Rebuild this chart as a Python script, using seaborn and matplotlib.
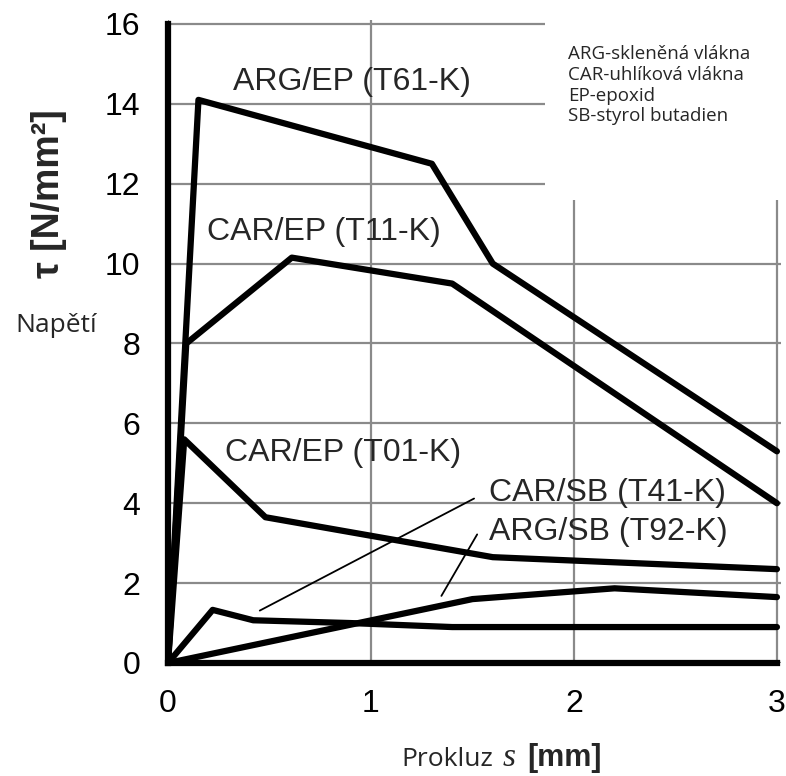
import matplotlib
matplotlib.use("Agg")
import matplotlib.pyplot as plt
import seaborn as sns
import pandas as pd
from matplotlib.patches import Rectangle

# ---- data ----
arg_ep_s = [0.0, 0.15, 1.30, 1.60, 3.00]
arg_ep_t = [0.0, 14.1, 12.5, 10.0, 5.3]

car_ep11_s = [0.0, 0.09, 0.61, 1.40, 3.00]
car_ep11_t = [0.0, 8.0, 10.15, 9.5, 4.0]

car_ep01_s = [0.0, 0.08, 0.48, 1.60, 3.00]
car_ep01_t = [0.0, 5.6, 3.65, 2.65, 2.35]

car_sb_s = [0.0, 0.22, 0.42, 0.90, 1.40, 3.00]
car_sb_t = [0.0, 1.33, 1.07, 1.0, 0.9, 0.9]

arg_sb_s = [0.0, 1.50, 2.20, 3.00]
arg_sb_t = [0.0, 1.6, 1.87, 1.65]

series_names = ["ARG/EP (T61-K)", "CAR/EP (T11-K)", "CAR/EP (T01-K)",
                "CAR/SB (T41-K)", "ARG/SB (T92-K)"]
series_s = [arg_ep_s, car_ep11_s, car_ep01_s, car_sb_s, arg_sb_s]
series_t = [arg_ep_t, car_ep11_t, car_ep01_t, car_sb_t, arg_sb_t]

# label anchor points (left edge, vertical centre) in data units
label_x = [0.32, 0.19, 0.28, 1.58, 1.58]
label_y = [14.55, 10.8, 5.25, 4.25, 3.28]

# leader lines for the two SB labels: (from point on curve) -> (to label)
leader_from = [(0.44, 1.28), (1.34, 1.62)]
leader_to = [(1.52, 4.15), (1.53, 3.28)]

note_lines = ["ARG-skleněná vlákna", "CAR-uhlíková vlákna",
              "EP-epoxid", "SB-styrol butadien"]

x_ticks = [0, 1, 2, 3]
y_ticks = [0, 2, 4, 6, 8, 10, 12, 14, 16]

rows = []
for name, ss, tt in zip(series_names, series_s, series_t):
    for i, (s, t) in enumerate(zip(ss, tt)):
        rows.append({"series": name, "order": i, "s": s, "tau": t})
df = pd.DataFrame(rows)

# ---- style ----
sns.set_style("white")
plt.rcParams["font.family"] = ["Liberation Sans", "DejaVu Sans"]

fig = plt.figure(figsize=(7.86, 7.76), dpi=100)
ax = fig.add_axes([168 / 786, 1 - 663 / 776, 613 / 786, 643 / 776])

sns.lineplot(data=df, x="s", y="tau", hue="series", units="series",
             estimator=None, sort=False, legend=False,
             palette={n: "black" for n in series_names},
             linewidth=4.5, ax=ax, zorder=3)

ax.set_xlim(0, 3.02)
ax.set_ylim(0, 16.1)
ax.set_xticks(x_ticks)
ax.set_yticks(y_ticks)
ax.set_xticklabels([str(v) for v in x_ticks])
ax.set_yticklabels([str(v) for v in y_ticks])

ax.set_axisbelow(True)
ax.grid(True, color="#8a8a8a", linewidth=1.6)
# blank area behind the note (grid hidden there)
ax.add_patch(Rectangle((1.857, 11.6), 1.3, 5.0, facecolor="white",
                       edgecolor="none", zorder=0.8))

for sp in ["top", "right"]:
    ax.spines[sp].set_visible(False)
for sp in ["left", "bottom"]:
    ax.spines[sp].set_color("black")
    ax.spines[sp].set_linewidth(4.5)
    ax.spines[sp].set_zorder(4)
ax.spines["left"].set_bounds(0, 16)
ax.spines["bottom"].set_bounds(0, 3)

ax.tick_params(axis="both", direction="out", length=7, width=4,
               color="black", labelsize=23, labelcolor="black")
ax.tick_params(axis="y", pad=13)
ax.tick_params(axis="x", pad=12)

ax.set_xlabel("")
ax.set_ylabel("τ [N/mm²]", fontsize=27, fontweight="bold")
ax.yaxis.set_label_coords(-0.165, 0.73)

# series labels
for name, lx, ly in zip(series_names, label_x, label_y):
    ax.text(lx, ly, name, fontsize=23, ha="left", va="center", zorder=5)

# leader lines
for (x0, y0), (x1, y1) in zip(leader_from, leader_to):
    ax.annotate("", xy=(x0, y0), xytext=(x1, y1),
                arrowprops=dict(arrowstyle="-", color="black", lw=1.3))

# note text
fig.text(568 / 786, 1 - 45 / 776, "\n".join(note_lines), fontsize=13.5,
         family=["Open Sans", "DejaVu Sans"], ha="left", va="top",
         linespacing=1.2)

# Napětí
fig.text(15 / 786, 1 - 332 / 776, "Napětí", fontsize=19,
         family=["Open Sans", "DejaVu Sans"], ha="left", va="baseline")

# x label: Prokluz s [mm]
fig.text(401 / 786, 1 - 766 / 776, "Prokluz", fontsize=19,
         family=["Open Sans", "DejaVu Sans"], ha="left", va="baseline")
fig.text(503 / 786, 1 - 766 / 776, "s", fontsize=24, style="italic",
         family=["Liberation Serif", "DejaVu Serif"], ha="left", va="baseline")
fig.text(527 / 786, 1 - 766 / 776, "[mm]", fontsize=22, fontweight="bold",
         ha="left", va="baseline")

fig.savefig("out.png", dpi=100)
